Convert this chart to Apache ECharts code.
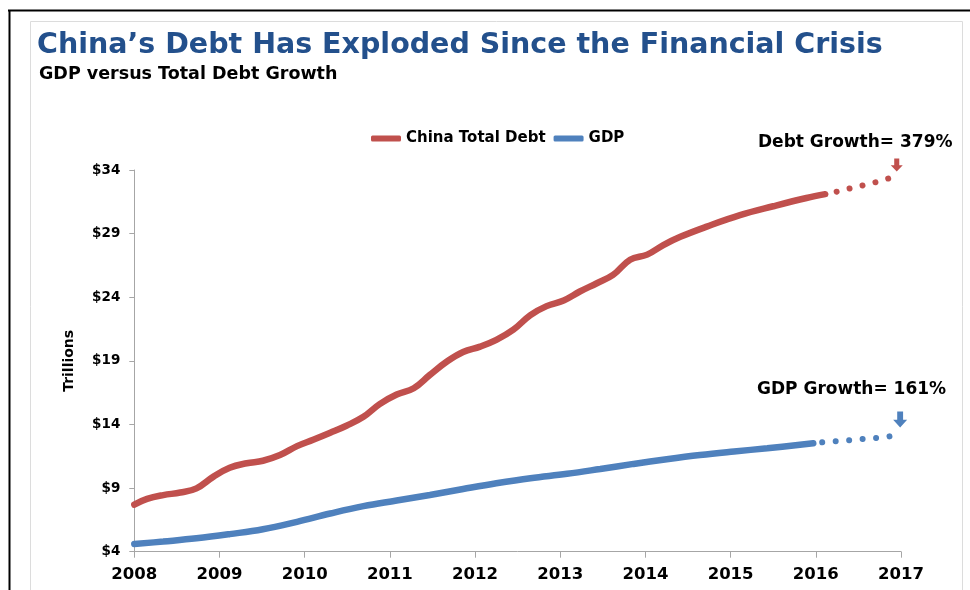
<!DOCTYPE html>
<html>
<head>
<meta charset="utf-8">
<script src="https://cdn.jsdelivr.net/npm/echarts@6/dist/echarts.min.js"></script>
<style>
html,body{margin:0;padding:0;background:#fff;}
#chart{width:970px;height:590px;}
</style>
</head>
<body>
<div id="chart"></div>
<script>
// ---- data ----
const titleText = 'China\u2019s Debt Has Exploded Since the Financial Crisis';
const subtitleText = 'GDP versus Total Debt Growth';
const seriesNames = ['China Total Debt', 'GDP'];
const xTicks = [2008, 2009, 2010, 2011, 2012, 2013, 2014, 2015, 2016, 2017];
const yTicks = [4, 9, 14, 19, 24, 29, 34];
const yAxisName = 'Trillions';

const debtT = [2008.00, 2008.15, 2008.34, 2008.54, 2008.73, 2008.93, 2009.12, 2009.32, 2009.51, 2009.71,
  2009.91, 2010.10, 2010.30, 2010.49, 2010.69, 2010.88, 2011.08, 2011.28, 2011.47, 2011.67,
  2011.86, 2012.06, 2012.25, 2012.45, 2012.65, 2012.84, 2013.04, 2013.23, 2013.43, 2013.62,
  2013.82, 2014.02, 2014.21, 2014.41, 2014.72, 2015.11, 2015.50, 2015.89, 2016.11];
const debtV = [7.7, 8.15, 8.45, 8.65, 8.98, 9.9, 10.6, 10.95, 11.15, 11.6,
  12.3, 12.8, 13.35, 13.9, 14.6, 15.6, 16.35, 16.85, 17.9, 18.95,
  19.7, 20.12, 20.65, 21.45, 22.6, 23.3, 23.75, 24.45, 25.1, 25.75,
  26.95, 27.35, 28.1, 28.75, 29.55, 30.45, 31.15, 31.8, 32.1];
const debtProjT = [2016.11, 2016.25, 2016.40, 2016.56, 2016.71, 2016.86];
const debtProjV = [32.1, 32.3, 32.55, 32.8, 33.05, 33.35];

const gdpT = [2008.00, 2008.34, 2008.73, 2009.12, 2009.51, 2009.91, 2010.30, 2010.69, 2011.08, 2011.47,
  2011.86, 2012.25, 2012.65, 2013.08, 2013.47, 2013.86, 2014.25, 2014.64, 2015.04, 2015.43, 2015.97];
const gdpV = [4.6, 4.8, 5.05, 5.38, 5.76, 6.35, 7.0, 7.58, 8.02, 8.46,
  8.93, 9.38, 9.78, 10.12, 10.5, 10.9, 11.27, 11.6, 11.88, 12.13, 12.52];
const gdpProjT = [2015.97, 2016.08, 2016.24, 2016.39, 2016.56, 2016.72, 2016.87];
const gdpProjV = [12.52, 12.6, 12.68, 12.76, 12.86, 12.94, 13.07];

const debtNote = 'Debt Growth= 379%';
const gdpNote = 'GDP Growth= 161%';
const debtArrowAt = [2016.95, 34.4];
const gdpArrowAt = [2016.99, 14.39];

// ---- styling ----
const FONT = 'DejaVu Sans';
const RED = '#C0504D';
const BLUE = '#4F81BD';

const zip = (t, v) => t.map((x, i) => [x, v[i]]);

const chart = echarts.init(document.getElementById('chart'), null, {renderer: 'canvas'});
chart.setOption({
  backgroundColor: '#fff',
  animation: false,
  title: [
    {text: titleText, left: 37, top: 31, padding: 0,
      textStyle: {fontFamily: FONT, fontWeight: 'bold', fontSize: 28.5, color: '#23508C'}},
    {text: subtitleText, left: 39, top: 65, padding: 0,
      textStyle: {fontFamily: FONT, fontWeight: 'bold', fontSize: 17.5, color: '#000'}},
    {text: debtNote, left: 758, top: 134, padding: 0,
      textStyle: {fontFamily: FONT, fontWeight: 'bold', fontSize: 17, color: '#000'}},
    {text: gdpNote, left: 757, top: 381, padding: 0,
      textStyle: {fontFamily: FONT, fontWeight: 'bold', fontSize: 17, color: '#000'}}
  ],
  graphic: [
    {id: 'f1', type: 'line', shape: {x1: 8, y1: 10.5, x2: 970, y2: 10.5}, style: {stroke: '#000', lineWidth: 2}, silent: true},
    {id: 'f2', type: 'line', shape: {x1: 9.5, y1: 10, x2: 9.5, y2: 590}, style: {stroke: '#000', lineWidth: 2}, silent: true},
    {id: 'f3', type: 'rect', shape: {x: 30.5, y: 21.5, width: 932, height: 600}, style: {fill: null, stroke: '#dcdcdc', lineWidth: 1}, silent: true}
  ],
  legend: {
    data: seriesNames,
    left: 366, top: 126,
    itemWidth: 30, itemHeight: 6, itemGap: 8,
    icon: 'roundRect',
    textStyle: {fontFamily: FONT, fontWeight: 'bold', fontSize: 15, color: '#000'}
  },
  grid: {left: 134.3, right: 69, top: 170, bottom: 38.3, containLabel: false},
  xAxis: {
    type: 'value',
    min: xTicks[0], max: xTicks[xTicks.length - 1], interval: 1,
    axisLine: {show: true, lineStyle: {color: '#a6a6a6', width: 1}},
    axisTick: {show: true, length: 6, lineStyle: {color: '#a6a6a6'}},
    splitLine: {show: false},
    axisLabel: {margin: 15, fontFamily: FONT, fontWeight: 'bold', fontSize: 16.5, color: '#000',
      formatter: v => String(v)}
  },
  yAxis: {
    type: 'value',
    min: yTicks[0], max: yTicks[yTicks.length - 1], interval: yTicks[1] - yTicks[0],
    name: yAxisName, nameLocation: 'middle', nameGap: 58, nameRotate: 90,
    nameTextStyle: {fontFamily: FONT, fontWeight: 'bold', fontSize: 14, color: '#000'},
    axisLine: {show: true, lineStyle: {color: '#a6a6a6', width: 1}},
    axisTick: {show: true, length: 5, lineStyle: {color: '#a6a6a6'}},
    splitLine: {show: false},
    axisLabel: {margin: 14, fontFamily: FONT, fontWeight: 'bold', fontSize: 13.5, color: '#000',
      formatter: v => '$' + v}
  },
  series: [
    {name: seriesNames[0], type: 'line', data: zip(debtT, debtV), smooth: 0.4, showSymbol: false,
      color: RED, lineStyle: {color: RED, width: 6.5, cap: 'round'}, z: 3},
    {name: seriesNames[1], type: 'line', data: zip(gdpT, gdpV), smooth: 0.4, showSymbol: false,
      color: BLUE, lineStyle: {color: BLUE, width: 6.5, cap: 'round'}, z: 3},
    {name: seriesNames[0] + ' projection', type: 'line', data: zip(debtProjT, debtProjV), smooth: false, showSymbol: false,
      color: RED, lineStyle: {color: RED, width: 6, type: [0.01, 13.3], dashOffset: 1.6, cap: 'round'}},
    {name: seriesNames[1] + ' projection', type: 'line', data: zip(gdpProjT, gdpProjV), smooth: false, showSymbol: false,
      color: BLUE, lineStyle: {color: BLUE, width: 6, type: [0.01, 13.5], dashOffset: 4.5, cap: 'round'}}
  ]
});

// block arrows placed at data coordinates
function arrow(id, at, w, h, color) {
  const p = chart.convertToPixel({gridIndex: 0}, at);
  const sw = w * 0.42;
  const hh = h * 0.48;
  const x = p[0], y = p[1] - h / 2;
  return {id: id, type: 'polygon', silent: true, z: 10,
    shape: {points: [[x - sw / 2, y], [x + sw / 2, y], [x + sw / 2, y + h - hh], [x + w / 2, y + h - hh],
      [x, y + h], [x - w / 2, y + h - hh], [x - sw / 2, y + h - hh]]},
    style: {fill: color}};
}
chart.setOption({graphic: [
  arrow('a1', debtArrowAt, 12, 13, RED),
  arrow('a2', gdpArrowAt, 14, 16, BLUE)
]});
</script>
</body>
</html>
